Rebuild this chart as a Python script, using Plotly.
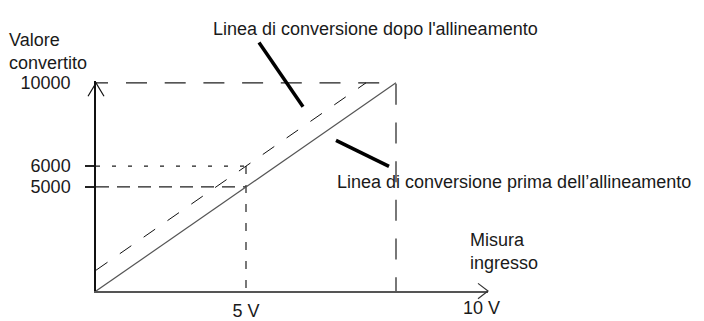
import plotly.graph_objects as go

# ---- data -------------------------------------------------------------
# Conversion line before alignment: input voltage -> converted value
input_v = [0, 5, 10]
value_before = [0, 5000, 10000]

# Conversion line after alignment (offset of +1000 introduced at 5 V)
aligned_v = [0, 5, 9]
value_after = [1000, 6000, 10000]

# Reference points
measure_v = 5
measured_value = 5000
aligned_value = 6000
full_scale_v = 10
full_scale_value = 10000

y_tick_vals = [5000, 6000, 10000]
y_tick_text = ["5000", "6000", "10000"]
x_tick_vals = [5]
x_tick_text = ["5 V"]

# ---- geometry of the drawing (pixels) ------------------------------------
W, H = 704, 321
ORIGIN_X, AXIS_END_X = 96, 488
ORIGIN_Y, AXIS_TOP_Y = 295, 76
PX_PER_V = 30.0
PX_PER_COUNT = 217 / 10000.0


def px(x):
    return x / W


def py(y):
    return 1 - y / H


FONT = dict(family="Liberation Sans, Arial, Helvetica, sans-serif", size=18, color="#1a1a1a")
INK = "#1e1e1e"

fig = go.Figure()

# full-scale frame (10000 level and its vertical drop)
fig.add_trace(go.Scatter(
    x=[0, full_scale_v, full_scale_v],
    y=[full_scale_value, full_scale_value, 0],
    mode="lines",
    line=dict(color=INK, width=1.2,
              dash=",".join(["12px", "18px"] + ["21px", "17.7px"] * 16)),
    hoverinfo="skip",
))

# 6000 guide (dotted) and 5 V drop (dashed)
fig.add_trace(go.Scatter(
    x=[0, measure_v], y=[aligned_value, aligned_value],
    mode="lines", line=dict(color=INK, width=1.2, dash="4px,12px"),
    hoverinfo="skip",
))
fig.add_trace(go.Scatter(
    x=[measure_v, measure_v], y=[aligned_value, 0],
    mode="lines", line=dict(color=INK, width=1.2, dash="8px,11px"),
    hoverinfo="skip",
))

# 5000 guide (dashed)
fig.add_trace(go.Scatter(
    x=[0, measure_v], y=[measured_value, measured_value],
    mode="lines", line=dict(color=INK, width=1.2, dash="13px,8px"),
    hoverinfo="skip",
))

# conversion line before alignment (solid)
fig.add_trace(go.Scatter(
    x=input_v, y=value_before,
    mode="lines", line=dict(color="#555555", width=1.2),
    hoverinfo="skip",
))

# conversion line after alignment (dashed)
fig.add_trace(go.Scatter(
    x=aligned_v, y=value_after,
    mode="lines", line=dict(color="#111111", width=1, dash="14px,15px"),
    hoverinfo="skip",
))

# ---- axes ------------------------------------------------------------
x_max = (AXIS_END_X - ORIGIN_X) / PX_PER_V
y_max = (ORIGIN_Y - AXIS_TOP_Y) / PX_PER_COUNT

fig.update_xaxes(
    domain=[px(ORIGIN_X), px(AXIS_END_X)],
    range=[0, x_max],
    showgrid=False, zeroline=False,
    showline=True, linecolor="#555555", linewidth=2,
    tickmode="array", tickvals=x_tick_vals, ticktext=x_tick_text,
    ticks="", ticklabelstandoff=2,
    tickfont=FONT,
)
fig.update_yaxes(
    domain=[py(ORIGIN_Y), py(AXIS_TOP_Y)],
    range=[0, y_max],
    showgrid=False, zeroline=False,
    showline=True, linecolor="#111111", linewidth=1.5,
    tickmode="array", tickvals=y_tick_vals, ticktext=y_tick_text,
    ticks="", ticklabelstandoff=20,
    tickfont=FONT,
    minor=dict(tickmode="array", tickvals=[measured_value, aligned_value],
               ticks="outside", ticklen=9, tickwidth=1.5, tickcolor="#222222"),
)

# ---- arrowheads and leader lines -------------------------------------------
def path(points):
    return "M " + " L ".join(f"{px(a):.5f},{py(b):.5f}" for a, b in points)


shapes = [
    dict(type="path", xref="paper", yref="paper",
         path=path([(88, 92), (96, 78), (104, 92)]),
         line=dict(color="#111111", width=1.2)),
    dict(type="path", xref="paper", yref="paper",
         path=path([(478, 287), (488, 295), (478, 303)]),
         line=dict(color="#333333", width=1.2)),
    dict(type="line", xref="paper", yref="paper",
         x0=px(259), y0=py(36), x1=px(303), y1=py(103),
         line=dict(color="#000000", width=3.5)),
    dict(type="line", xref="paper", yref="paper",
         x0=px(336), y0=py(138), x1=px(389), y1=py(165),
         line=dict(color="#000000", width=3.5)),
]

# ---- text labels -----------------------------------------------------------
def label(text, x, y, xanchor="left", align="left"):
    return dict(text=text, x=px(x), y=py(y), xref="paper", yref="paper",
                xanchor=xanchor, yanchor="middle", align=align,
                showarrow=False, font=FONT)


annotations = [
    label("Valore<br>convertito", 7, 45),
    label("Linea di conversione dopo l'allineamento", 211, 22),
    label("Linea di conversione prima dell\u2019allineamento", 335, 181),
    label("Misura<br>ingresso", 468, 254),
    label("10 V", 481, 313, xanchor="center", align="center"),
]

fig.update_layout(
    width=W, height=H,
    margin=dict(l=0, r=0, t=0, b=0),
    paper_bgcolor="white", plot_bgcolor="white",
    showlegend=False,
    shapes=shapes,
    annotations=annotations,
    font=FONT,
)

fig.write_html("out.html")
